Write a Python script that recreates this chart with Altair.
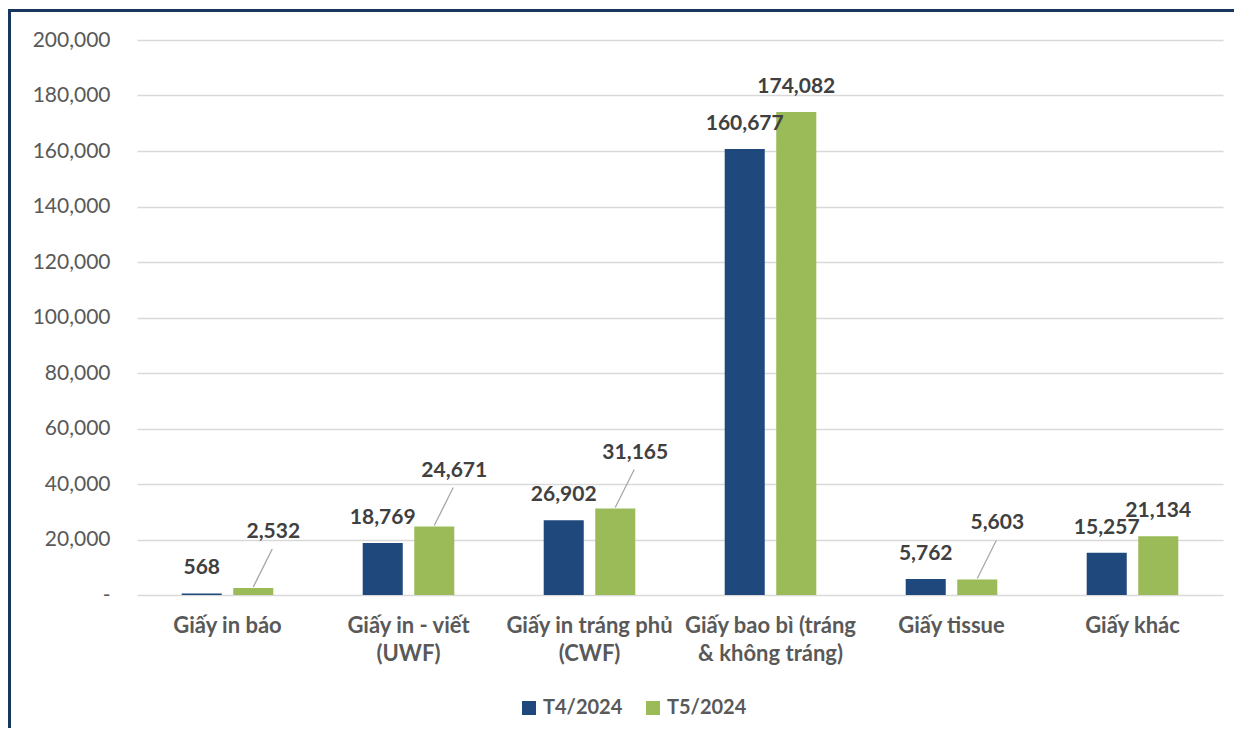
import altair as alt
import pandas as pd

# ---------------- data ----------------
categories = [
    "Giấy in báo",
    "Giấy in - viết\n(UWF)",
    "Giấy in tráng phủ\n(CWF)",
    "Giấy bao bì (tráng\n& không tráng)",
    "Giấy tissue",
    "Giấy khác",
]
series = ["T4/2024", "T5/2024"]
t4_values = [568, 18769, 26902, 160677, 5762, 15257]
t5_values = [2532, 24671, 31165, 174082, 5603, 21134]
# T5 labels that were pulled away from their bar with a leader line
leader_categories = [categories[0], categories[1], categories[2], categories[4]]
y_ticks = [0, 20000, 40000, 60000, 80000, 100000, 120000, 140000, 160000, 180000, 200000]

# ---------------- style ----------------
FONT = "Lato"
BLUE = "#1F497D"
GREEN = "#9BBB59"
FRAME = "#17375E"
AXIS_GREY = "#595959"
LABEL_GREY = "#404040"
GRID = "#D9D9D9"
W, H = 1086, 555
BAR_HALF_STEP = 25.75  # offset of a series bar centre from the group centre (px)

df = pd.DataFrame({
    "category": categories * 2,
    "series": [series[0]] * len(categories) + [series[1]] * len(categories),
    "value": t4_values + t5_values,
})
df["label"] = df["value"].map(lambda v: f"{v:,}")
df["leader"] = (df["series"] == series[1]) & df["category"].isin(leader_categories)

x_enc = alt.X(
    "category:N",
    sort=categories,
    scale=alt.Scale(paddingInner=0.494, paddingOuter=0.247),
    axis=alt.Axis(
        title=None,
        labelExpr="split(datum.label, '\\n')",
        labelFont=FONT,
        labelFontSize=22,
        labelFontWeight="bold",
        labelColor=AXIS_GREY,
        labelPadding=20,
        labelLineHeight=28,
        labelLimit=400,
        labelOverlap=False,
        labelAngle=0,
        labelBaseline="top",
        ticks=False,
        tickSize=0,
        domain=False,
        grid=False,
    ),
)
y_enc = alt.Y(
    "value:Q",
    scale=alt.Scale(domain=[0, 200000], nice=False),
    axis=alt.Axis(
        title=None,
        values=y_ticks,
        labelExpr="datum.value == 0 ? '-' : format(datum.value, ',')",
        labelFont=FONT,
        labelFontSize=21,
        labelColor=AXIS_GREY,
        labelPadding=27,
        ticks=False,
        tickSize=0,
        domain=False,
        grid=True,
        gridColor=GRID,
        gridWidth=1.5,
    ),
)
xoff_enc = alt.XOffset(
    "series:N", sort=series, scale=alt.Scale(paddingInner=0.223, paddingOuter=0)
)

base = alt.Chart(df)

bars = base.mark_bar().encode(
    x=x_enc,
    y=y_enc,
    xOffset=xoff_enc,
    color=alt.Color(
        "series:N",
        sort=series,
        scale=alt.Scale(domain=series, range=[BLUE, GREEN]),
        legend=alt.Legend(
            title=None,
            orient="none",
            legendX=382,
            legendY=658,
            direction="horizontal",
            symbolType="square",
            symbolSize=196,
            symbolStrokeWidth=0,
            labelFont=FONT,
            labelFontSize=20,
            labelFontWeight="bold",
            labelColor=AXIS_GREY,
            labelOffset=4,
            columnPadding=20,
            padding=0,
        ),
    ),
)

labels_plain = base.transform_filter("!datum.leader").mark_text(
    font=FONT, fontSize=21, fontWeight="bold", color=LABEL_GREY,
    baseline="middle", dy=-25,
).encode(x=x_enc, y=y_enc, xOffset=xoff_enc, text="label:N")

labels_moved = base.transform_filter("datum.leader").mark_text(
    font=FONT, fontSize=21, fontWeight="bold", color=LABEL_GREY,
    baseline="middle", dx=20, dy=-56,
).encode(x=x_enc, y=y_enc, xOffset=xoff_enc, text="label:N")

leaders = base.transform_filter("datum.leader").mark_rule(
    color="#A6A6A6", strokeWidth=1.3,
    xOffset=BAR_HALF_STEP, x2Offset=BAR_HALF_STEP + 19,
    yOffset=-1, y2Offset=-39,
).encode(
    x=alt.X("category:N", sort=categories, bandPosition=0.5),
    x2=alt.X2("category", bandPosition=0.5),
    y="value:Q",
    y2="value",
)

frame = alt.Chart(pd.DataFrame({"f": [0]})).mark_rect(
    fillOpacity=0, stroke=FRAME, strokeWidth=3
).encode(
    x=alt.value(-127.5), y=alt.value(-29.5), x2=alt.value(1500), y2=alt.value(1000)
)

chart = alt.layer(bars, leaders, labels_plain, labels_moved, frame).properties(
    width=W,
    height=H,
    autosize=alt.AutoSizeParams(type="none"),
    padding={"left": 129, "top": 32, "right": 11, "bottom": 133},
    background="white",
).configure_view(stroke=None)

chart.save("out.html", embed_options={"renderer": "svg", "actions": False})
